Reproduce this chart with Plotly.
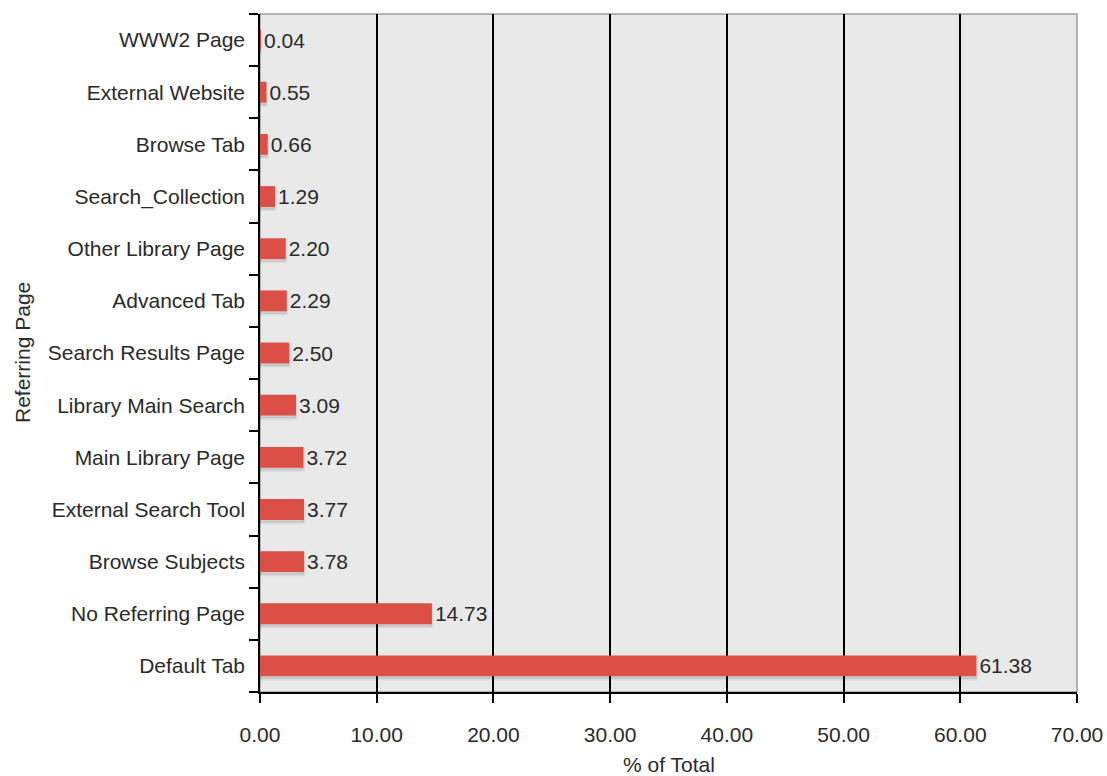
import plotly.graph_objects as go

categories = ["Default Tab", "No Referring Page", "Browse Subjects", "External Search Tool",
              "Main Library Page", "Library Main Search", "Search Results Page", "Advanced Tab",
              "Other Library Page", "Search_Collection", "Browse Tab", "External Website", "WWW2 Page"]
values = [61.38, 14.73, 3.78, 3.77, 3.72, 3.09, 2.50, 2.29, 2.20, 1.29, 0.66, 0.55, 0.04]
x_ticks = [0, 10, 20, 30, 40, 50, 60, 70]
x_tick_labels = ["0.00", "10.00", "20.00", "30.00", "40.00", "50.00", "60.00", "70.00"]

FONT = "Liberation Sans, Arial, Helvetica, sans-serif"
TXT = "#2a2a2a"
FS = 21

fig = go.Figure()
# soft drop shadow behind the bars
fig.add_trace(go.Bar(
    y=categories, x=values, orientation="h",
    marker=dict(color="rgba(0,0,0,0.10)", line=dict(width=3, color="rgba(0,0,0,0.06)")),
    width=0.4, offset=-0.25, hoverinfo="skip", cliponaxis=True,
))
fig.add_trace(go.Bar(
    y=categories, x=values, orientation="h",
    marker=dict(color="#dc4f47", line=dict(width=0)),
    text=[f"{v:.2f}" for v in values], textposition="outside",
    textfont=dict(family=FONT, size=FS, color=TXT),
    cliponaxis=False, width=0.4, offset=-0.2,
))

fig.update_layout(
    width=1107, height=776, barmode="overlay",
    margin=dict(l=260, r=30, t=14, b=84, autoexpand=False),
    paper_bgcolor="white", plot_bgcolor="#e9e9e9",
    showlegend=False,
    font=dict(family=FONT, size=FS, color=TXT),
    uniformtext=dict(minsize=FS, mode="show"),
    shapes=[dict(type="rect", xref="paper", yref="paper", x0=0, x1=1, y0=0, y1=1,
                 line=dict(color="#a0a0a0", width=1.5), layer="below")],
    annotations=[
        dict(text="% of Total", xref="paper", yref="paper", x=0.5, y=0, yshift=-72,
             showarrow=False, font=dict(size=FS, color=TXT), yanchor="middle"),
        dict(text="Referring Page", xref="paper", yref="paper", x=0, y=0.5, xshift=-238,
             showarrow=False, font=dict(size=FS, color=TXT), textangle=-90, xanchor="center"),
    ],
)
fig.update_xaxes(
    range=[0, 70], tickvals=x_ticks, ticktext=x_tick_labels,
    showgrid=True, gridcolor="black", gridwidth=1.5,
    showline=True, linecolor="black", linewidth=1.5,
    ticks="outside", ticklen=9, tickwidth=1.5, tickcolor="black",
    ticklabelstandoff=14, zeroline=False, automargin=False,
    tickfont=dict(size=FS, color=TXT),
)
fig.update_yaxes(
    categoryorder="array", categoryarray=categories,
    showline=True, linecolor="black", linewidth=1.5,
    ticks="outside", ticklen=9, tickwidth=1.5, tickcolor="black",
    tickson="boundaries", showgrid=False, automargin=False,
    ticklabelstandoff=9,
    tickfont=dict(size=FS, color=TXT),
)

fig.write_html("out.html")
